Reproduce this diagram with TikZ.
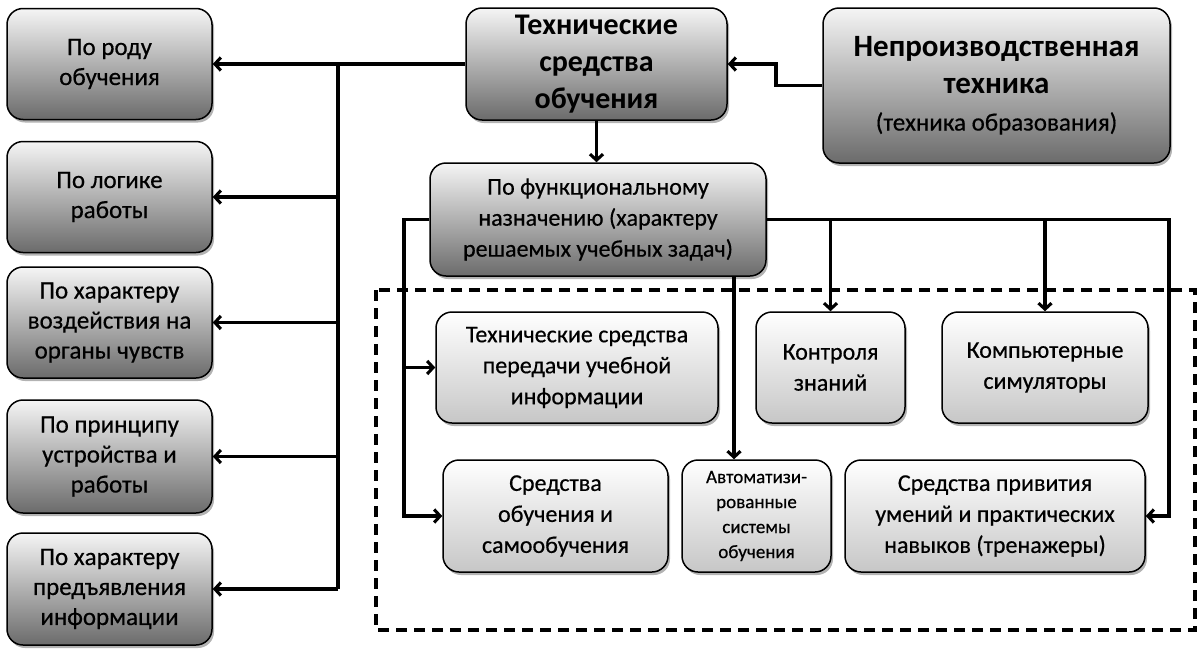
\documentclass[tikz,border=0pt]{standalone}
\usepackage{fontspec}
\setmainfont{Carlito}[UprightFeatures={FakeBold=0.5}]
\usetikzlibrary{arrows.meta,shadows,calc}
\begin{document}
\begin{tikzpicture}[x=1pt,y=-1pt,
  box/.style={draw=black, line width=1.5pt, rounded corners=16pt, align=center, inner sep=0pt,
    drop shadow={shadow xshift=2pt,shadow yshift=-3pt,opacity=0.6}},
  dark/.style={box, top color=black!4, bottom color=black!58},
  light/.style={box, top color=white, bottom color=black!22},
  conn/.style={line width=3.1pt},
  arr/.style={conn, -{Straight Barb[length=6pt,width=13pt]}},
  lfont/.style={font=\fontsize{25}{30}\selectfont},
  ifont/.style={font=\fontsize{24}{31}\selectfont},
]
\useasboundingbox (0,0) rectangle (1198,656);
% left column
\node[dark, lfont, minimum width=205pt, minimum height=111pt] (L1) at (109.5,64) {По роду\\обучения};
\node[dark, lfont, minimum width=205pt, minimum height=111pt] (L2) at (109.5,197) {По логике\\работы};
\node[dark, lfont, minimum width=205pt, minimum height=111pt] (L3) at (109.5,322.5) {По характеру\\воздействия на\\органы чувств};
\node[dark, lfont, minimum width=205pt, minimum height=113pt] (L4) at (109.5,456.5) {По принципу\\устройства и\\работы};
\node[dark, lfont, minimum width=205pt, minimum height=112pt] (L5) at (109.5,589) {По характеру\\предъявления\\информации};
% top
\node[dark, minimum width=261pt, minimum height=112pt, font=\bfseries\fontsize{30}{37}\selectfont] (TSO) at (596.5,64) {Технические\\средства\\обучения};
\node[dark, minimum width=347pt, minimum height=155pt, font=\fontsize{25}{37}\selectfont] (NP) at (996.5,85.5) {{\bfseries\fontsize{31}{37}\selectfont Непроизводственная}\\{\bfseries\fontsize{31}{37}\selectfont техника}\\(техника образования)};
\node[dark, ifont, minimum width=336pt, minimum height=113pt] (PF) at (598,219.5) {По функциональному\\назначению (характеру\\решаемых учебных задач)};
% dashed frame
\draw[line width=3.4pt, dash pattern=on 11pt off 7pt] (376,290) rectangle (1195,630);
% inner boxes
\node[light, ifont, minimum width=282pt, minimum height=111pt] (TS) at (577,367.5) {Технические средства\\передачи учебной\\информации};
\node[light, ifont, minimum width=149pt, minimum height=111pt] (KZ) at (830.5,367.5) {Контроля\\знаний};
\node[light, ifont, minimum width=206pt, minimum height=111pt] (KS) at (1045,367.5) {Компьютерные\\симуляторы};
\node[light, ifont, minimum width=225pt, minimum height=112pt] (SOS) at (555.5,516) {Средства\\обучения и\\самообучения};
\node[light, font=\fontsize{19}{25}\selectfont, minimum width=149pt, minimum height=112pt] (ASO) at (756.5,516) {Автоматизи-\\рованные\\системы\\обучения};
\node[light, ifont, minimum width=300pt, minimum height=112pt] (SPU) at (995,516) {Средства привития\\умений и практических\\навыков (тренажеры)};
% connectors: left trunk
\coordinate (tr) at (338,64);
\draw[conn] (tr) -- (tr |- L5.east);
\draw[arr] (TSO.west) -- (L1.east);
\draw[arr] (tr |- L2.east) -- (L2.east);
\draw[arr] (tr |- L3.east) -- (L3.east);
\draw[arr] (tr |- L4.east) -- (L4.east);
\draw[arr] (tr |- L5.east) -- (L5.east);
% NP -> TSO
\coordinate (np) at (776,0);
\draw[arr] (NP.west) -- (np |- NP.west) |- (TSO.east);
% TSO -> PF
\draw[arr] (TSO.south) -- (TSO.south |- PF.north);
% PF branches
\coordinate (lt) at (404,219.5);
\coordinate (rt) at (1169,219.5);
\draw[arr] (PF.west) -- (lt) -- (lt |- SOS.west) -- (SOS.west);
\draw[arr] (lt |- TS.west) -- (TS.west);
\draw[arr] (PF.east) -- (rt) -- (rt |- SPU.east) -- (SPU.east);
\draw[arr] (KZ.north |- PF.east) -- (KZ.north);
\draw[arr] (KS.north |- PF.east) -- (KS.north);
\coordinate (ax) at (734,0);
\draw[arr] (ax |- PF.south) -- (ax |- ASO.north);
\end{tikzpicture}
\end{document}
